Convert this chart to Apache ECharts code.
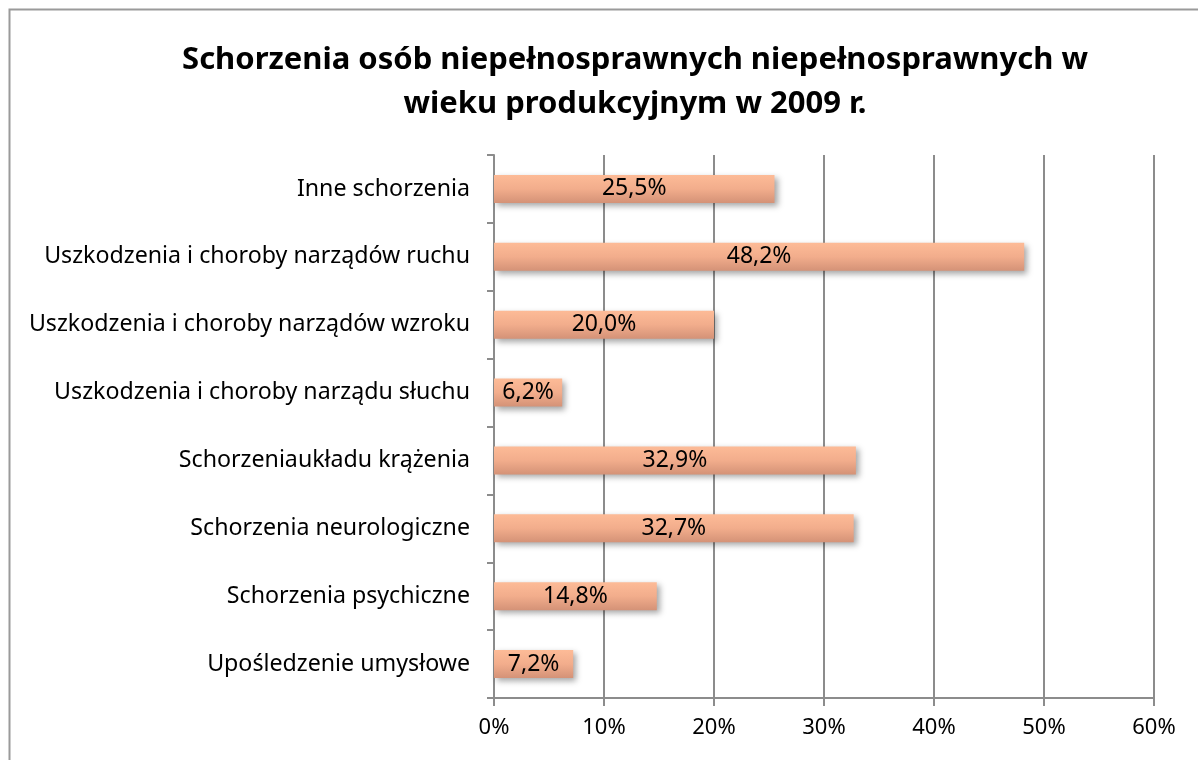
<!DOCTYPE html>
<html>
<head>
<meta charset="utf-8">
<script src="https://cdn.jsdelivr.net/npm/echarts@6/dist/echarts.min.js"></script>
<style>
  html, body { margin: 0; padding: 0; background: #fff; }
  #chart { width: 1198px; height: 760px; }
</style>
</head>
<body>
<div id="chart"></div>
<script>
// kategorie od dołu do góry (oś kategorii rysuje pierwszy element na dole)
const categories = [
  'Upośledzenie umysłowe',
  'Schorzenia psychiczne',
  'Schorzenia neurologiczne',
  'Schorzeniaukładu krążenia',
  'Uszkodzenia i choroby narządu słuchu',
  'Uszkodzenia i choroby narządów wzroku',
  'Uszkodzenia i choroby narządów ruchu',
  'Inne schorzenia'
]
const values = [7.2, 14.8, 32.7, 32.9, 6.2, 20.0, 48.2, 25.5]
const xTicks = [0, 10, 20, 30, 40, 50, 60]

const font = 'Noto Sans'
const chart = echarts.init(document.getElementById('chart'))

const option = {
  backgroundColor: '#fff',
  animation: false,
  title: {
    text: 'Schorzenia osób niepełnosprawnych niepełnosprawnych w\nwieku produkcyjnym w 2009 r.',
    left: 630,
    textAlign: 'center',
    top: 33,
    textStyle: {
      fontFamily: font,
      fontSize: 31,
      fontWeight: 'bold',
      color: '#000',
      lineHeight: 44
    }
  },
  graphic: [{
    type: 'rect',
    shape: { x: 9.5, y: 9.5, width: 1200, height: 760 },
    style: { fill: 'none', stroke: '#9a9a9a', lineWidth: 2 }
  }],
  grid: {
    left: 494,
    right: 44,
    top: 155,
    bottom: 62
  },
  xAxis: {
    type: 'value',
    min: xTicks[0],
    max: xTicks[xTicks.length - 1],
    interval: 10,
    axisLine: { show: true, lineStyle: { color: '#8c8c8c', width: 2 } },
    axisTick: { show: true, length: 8, lineStyle: { color: '#8c8c8c', width: 2 } },
    splitLine: { show: true, lineStyle: { color: '#8c8c8c', width: 2 } },
    axisLabel: {
      formatter: '{value}%',
      fontFamily: font,
      fontSize: 22,
      color: '#000',
      margin: 19
    }
  },
  yAxis: {
    type: 'category',
    data: categories,
    axisLine: { show: true, lineStyle: { color: '#8c8c8c', width: 2 } },
    axisTick: { show: true, length: 7, lineStyle: { color: '#8c8c8c', width: 2 } },
    axisLabel: {
      fontFamily: font,
      fontSize: 23.2,
      color: '#000',
      margin: 24,
      padding: [4, 0, 0, 0]
    }
  },
  series: [{
    type: 'bar',
    data: values,
    barWidth: 28,
    itemStyle: {
      color: {
        type: 'linear',
        x: 0, y: 0, x2: 0, y2: 1,
        colorStops: [
          { offset: 0, color: '#fdbb97' },
          { offset: 0.5, color: '#f2ad8c' },
          { offset: 1, color: '#d49277' }
        ]
      },
      shadowColor: 'rgba(0,0,0,0.35)',
      shadowBlur: 6,
      shadowOffsetX: 3,
      shadowOffsetY: 3
    },
    label: {
      show: true,
      position: 'inside',
      fontFamily: font,
      fontSize: 23,
      color: '#000',
      padding: [3, 0, 0, 0],
      formatter: (p) => p.value.toFixed(1).replace('.', ',') + '%'
    }
  }]
}

chart.setOption(option)
</script>
</body>
</html>
